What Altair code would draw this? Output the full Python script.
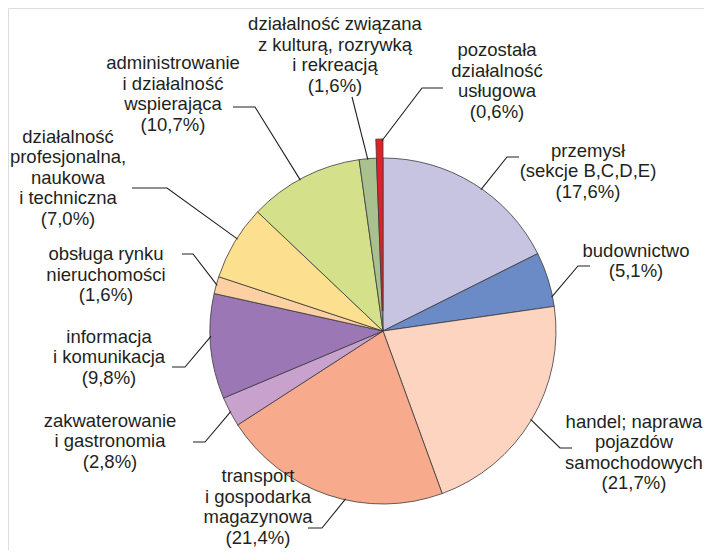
import math
import altair as alt
import pandas as pd

# ---- data ----
categories = [
    "przemysł", "budownictwo", "handel", "transport", "zakwaterowanie",
    "informacja", "obsługa", "profesjonalna", "administrowanie", "kultura", "pozostała",
]
label_lines = [
    ["przemysł", "(sekcje B,C,D,E)"],
    ["budownictwo"],
    ["handel; naprawa", "pojazdów", "samochodowych"],
    ["transport", "i gospodarka", "magazynowa"],
    ["zakwaterowanie", "i gastronomia"],
    ["informacja", "i komunikacja"],
    ["obsługa rynku", "nieruchomości"],
    ["działalność", "profesjonalna,", "naukowa", "i techniczna"],
    ["administrowanie", "i działalność", "wspierająca"],
    ["działalność związana", "z kulturą, rozrywką", "i rekreacją"],
    ["pozostała", "działalność", "usługowa"],
]
shares = [17.6, 5.1, 21.7, 21.4, 2.8, 9.8, 1.6, 7.0, 10.7, 1.6, 0.6]
colors = [
    "#c7c4e2", "#6b8bc7", "#fcd4c0", "#f8aa8c", "#c9a1cd",
    "#9c77b5", "#fdd0a3", "#fde08f", "#d5e08b", "#a9c18f", "#e3202a",
]
exploded = "pozostała"

# ---- annotation layout (pixel offsets from pie centre, y downward) ----
text_pos = [(205, -160), (253, -70), (251, 121.5), (-125, 176), (-273, 110),
            (-274, 26), (-277, -56.5), (-315, -153.5), (-210, -237), (-48, -276), (114, -250)]
elbows = [(124, -174), (195, -65), (177, 117), (-61, 197), (-178, 111),
          (-198, 36), (-190, -77), (-216, -143), (-128, -224), (-31, -234), (39, -243)]
ends = [(136, -174), (207, -65), (189, 117), (-75, 197), (-190, 111),
        (-211, 36), (-201, -77), (-251, -143), (-150, -224), (-31, -234), (60, -243)]
anchor_adjust = [3, 6, 0, -6, 0, 3.4, 0, 1.4, -1.5, 0, 0.7]
R = 173
R_EXPLODE_IN, R_EXPLODE_OUT = 20, 192
FS, LH = 18.5, 20.5

total = sum(shares)
df = pd.DataFrame({"cat": categories, "share": shares, "idx": list(range(len(shares)))})

labels = []
lines = []
cum = 0.0
for i, (c, v) in enumerate(zip(categories, shares)):
    mid = (cum + v / 2) / total * 360.0
    cum += v
    parts = label_lines[i] + [("(%.1f%%)" % v).replace(".", ",")]
    first_y = text_pos[i][1] - (len(parts) - 1) * LH / 2.0
    labels.append({"cat": c, "tx": text_pos[i][0], "ty": first_y, "label": "\n".join(parts)})
    a = math.radians(mid + anchor_adjust[i])
    r0 = (R_EXPLODE_OUT - 2) if c == exploded else R - 1
    pts = [(r0 * math.sin(a), -r0 * math.cos(a)), elbows[i], ends[i]]
    for k, (px, py) in enumerate(pts):
        lines.append({"cat": c, "seq": k, "lx": px, "ly": py})

lab_df = pd.DataFrame(labels)
line_df = pd.DataFrame(lines)

W, H = 696, 542
CX, CY = 375, 323
xs = alt.Scale(domain=[-CX, W - CX], nice=False, zero=False)
ys = alt.Scale(domain=[-CY, H - CY], nice=False, zero=False, reverse=True)
col_scale = alt.Scale(domain=categories, range=colors)

centre = dict(
    x=alt.XDatum(0, type="quantitative", scale=xs, axis=None),
    y=alt.YDatum(0, type="quantitative", scale=ys, axis=None),
)

pie = alt.Chart(df).mark_arc(radius=R, stroke="#3a3a3a", strokeWidth=0.8).encode(
    theta=alt.Theta("share:Q", stack=True),
    order=alt.Order("idx:Q"),
    color=alt.Color("cat:N", scale=col_scale, legend=None),
    opacity=alt.condition(alt.datum.cat == exploded, alt.value(0), alt.value(1)),
    **centre,
)

pie_exp = alt.Chart(df).mark_arc(
    radius=R_EXPLODE_OUT, radius2=R_EXPLODE_IN, stroke="#3a3a3a", strokeWidth=0.8
).encode(
    theta=alt.Theta("share:Q", stack=True),
    order=alt.Order("idx:Q"),
    color=alt.Color("cat:N", scale=col_scale, legend=None),
    opacity=alt.condition(alt.datum.cat == exploded, alt.value(1), alt.value(0)),
    **centre,
)

leaders = alt.Chart(line_df).mark_line(color="#231f20", strokeWidth=1.1).encode(
    x=alt.X("lx:Q", scale=xs, axis=None),
    y=alt.Y("ly:Q", scale=ys, axis=None),
    detail="cat:N",
    order="seq:Q",
)

texts = alt.Chart(lab_df).mark_text(
    font="Liberation Sans", fontSize=FS, lineHeight=LH, lineBreak="\n",
    align="center", baseline="middle", color="#231f20",
).encode(
    x=alt.X("tx:Q", scale=xs, axis=None),
    y=alt.Y("ty:Q", scale=ys, axis=None),
    text="label:N",
)

chart = alt.layer(pie, pie_exp, leaders, texts).properties(
    width=W, height=H, padding=0, autosize="none"
).configure_view(stroke="white", strokeWidth=0).configure(background="white")

chart.save("out.html", embed_options={"renderer": "svg", "actions": False})
